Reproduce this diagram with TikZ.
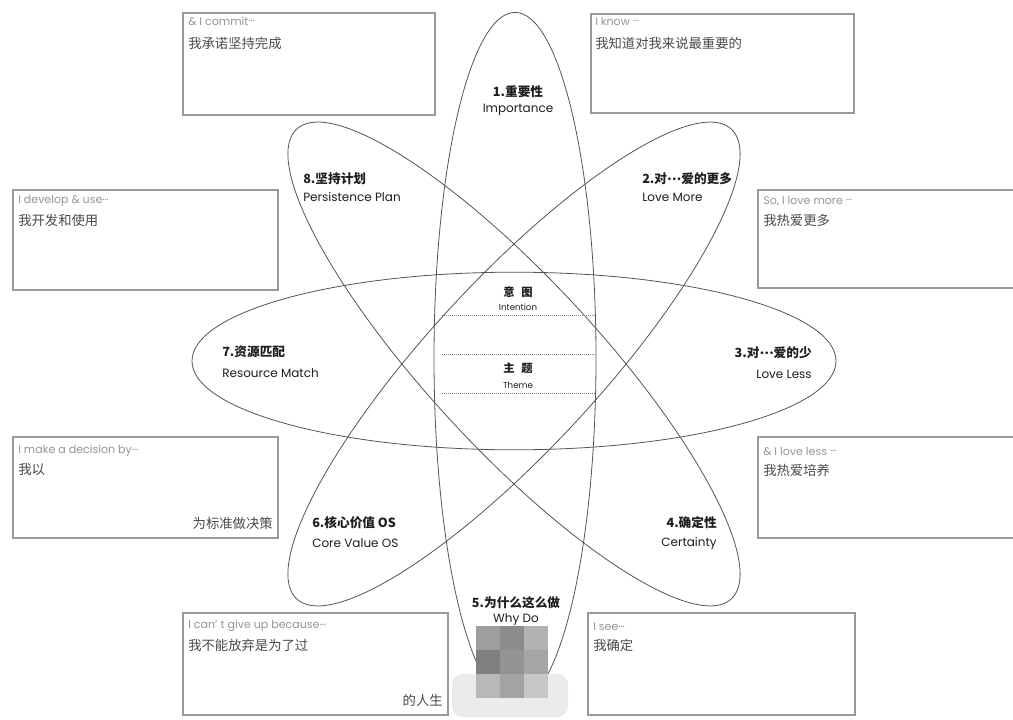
\documentclass[tikz,border=0pt]{standalone}
\usepackage{fontspec}
\setmainfont{Poppins}
\newfontfamily\cjk{Noto Sans CJK SC}
\definecolor{orbit}{HTML}{555555}
\definecolor{boxline}{HTML}{9A9A9A}
\definecolor{entext}{HTML}{959595}
\definecolor{zhtext}{HTML}{4A4A4A}
\definecolor{lbl}{HTML}{1E1E1E}
\newcommand{\mdots}{\raisebox{0.3em}{…}}
\tikzset{
  orbitline/.style={draw=orbit, line width=0.6pt},
  answerbox/.style={draw=boxline, line width=0.9pt},
  boxen/.style={inner sep=0pt, anchor=west, text=entext, font=\fontsize{8.3}{10}\selectfont},
  boxzh/.style={inner sep=0pt, anchor=west, text=zhtext, font=\cjk\fontsize{10}{12}\selectfont},
  boxzhr/.style={boxzh, anchor=east},
  lblzh/.style={inner sep=0pt, text=lbl, font=\cjk\bfseries\fontsize{9.5}{11}\selectfont},
  lblen/.style={inner sep=0pt, text=lbl, font=\fontsize{9}{11}\selectfont},
  midzh/.style={inner sep=0pt, text=lbl, font=\cjk\bfseries\fontsize{8.5}{10}\selectfont},
  miden/.style={inner sep=0pt, text=lbl, font=\fontsize{6.5}{8}\selectfont},
  dotline/.style={draw=gray, line width=0.5pt, dash pattern=on 0.5pt off 1pt}
}
\begin{document}
\begin{tikzpicture}[x=0.75pt,y=-0.75pt]
\useasboundingbox (0,0) rectangle (1013,720);
\fill[white] (0,0) rectangle (1013,720);
\begin{scope}
\clip (0,0) rectangle (1013,720);
% answer boxes
\draw[answerbox] (183,13) rectangle (435,115);
\draw[answerbox] (591,14) rectangle (854,113);
\draw[answerbox] (13,190) rectangle (278,290);
\draw[answerbox] (758,190) rectangle (1030,288);
\draw[answerbox] (13,437) rectangle (278,538);
\draw[answerbox] (758,437) rectangle (1030,538);
\draw[answerbox] (183,613) rectangle (448,715);
\draw[answerbox] (588,613) rectangle (855,715);
% orbits
\begin{scope}[shift={(514,361)}, yscale=1.07]
\draw[orbitline] (0,0) ellipse [x radius=322, y radius=83];
\end{scope}
\begin{scope}[shift={(515,358)}, yscale=1.07]
\draw[orbitline, rotate=90] (0,0) ellipse [x radius=323, y radius=81];
\end{scope}
\begin{scope}[shift={(514,364)}, yscale=1.07]
\draw[orbitline, rotate=45] (0,0) ellipse [x radius=309, y radius=82];
\draw[orbitline, rotate=-45] (0,0) ellipse [x radius=309, y radius=82];
\end{scope}
\end{scope}
% box texts
\node[boxen] (tlen) at (188,21) {\& I commit\mdots};
\node[boxzh] (tlzh) at (188,43) {我承诺坚持完成};
\node[boxen] (tren) at (595,21) {I know \mdots};
\node[boxzh] (trzh) at (595,43) {我知道对我来说最重要的};
\node[boxen] (mlen) at (18,201) {I develop \& use\mdots};
\node[boxzh] (mlzh) at (18,220) {我开发和使用};
\node[boxen] (mren) at (763,201) {So, I love more \mdots};
\node[boxzh] (mrzh) at (763,220) {我热爱更多};
\node[boxen] (llen) at (18,451) {I make a decision by\mdots};
\node[boxzh] (llzh) at (18,470) {我以};
\node[boxzhr] (llzh2) at (273,523) {为标准做决策};
\node[boxen] (lren) at (763,451) {\& I love less \mdots};
\node[boxzh] (lrzh) at (763,470) {我热爱培养};
\node[boxen] (blen) at (188,626) {I can’ t give up because\mdots};
\node[boxzh] (blzh) at (188,645) {我不能放弃是为了过};
\node[boxzhr] (blzh2) at (443,700) {的人生};
\node[boxen] (bren) at (593,627) {I see\mdots};
\node[boxzh] (brzh) at (593,645) {我确定};
% orbit labels
\node[lblzh] (l1zh) at (518,92) {1.重要性};
\node[lblen] (l1en) at (518,110) {Importance};
\node[lblzh, anchor=west] (l2zh) at (642,179) {2.对\mdots 爱的更多};
\node[lblen, anchor=west] (l2en) at (642,197) {Love More};
\node[lblzh, anchor=east] (l3zh) at (812,353) {3.对\mdots 爱的少};
\node[lblen, anchor=east] (l3en) at (812,374) {Love Less};
\node[lblzh, anchor=east] (l4zh) at (717,523) {4.确定性};
\node[lblen, anchor=east] (l4en) at (717,543) {Certainty};
\node[lblzh] (l5zh) at (516,603) {5.为什么这么做};
\node[lblen] (l5en) at (516,620) {Why Do};
\node[lblzh, anchor=west] (l6zh) at (312,523) {6.核心价值 OS};
\node[lblen, anchor=west] (l6en) at (312,543) {Core Value OS};
\node[lblzh, anchor=west] (l7zh) at (222,352) {7.资源匹配};
\node[lblen, anchor=west] (l7en) at (222,373) {Resource Match};
\node[lblzh, anchor=west] (l8zh) at (303,179) {8.坚持计划};
\node[lblen, anchor=west] (l8en) at (303,197) {Persistence Plan};
% center
\node[midzh] (intzh) at (518,292) {意\hspace{0.6em}图};
\node[miden] (inten) at (518,307) {Intention};
\coordinate (d1a) at (442,315); \coordinate (d1b) at (595,315);
\coordinate (d2a) at (442,354); \coordinate (d2b) at (595,354);
\coordinate (d3a) at (442,393); \coordinate (d3b) at (595,393);
\draw[dotline] (d1a) -- (d1b);
\draw[dotline] (d2a) -- (d2b);
\draw[dotline] (d3a) -- (d3b);
\node[midzh] (themezh) at (518,368) {主\hspace{0.6em}题};
\node[miden] (themeen) at (518,385) {Theme};
% mosaic
\fill[black!8, rounded corners=8pt] (452,674) rectangle (568,717);
\fill[black!38] (476,626) rectangle (500,650);
\fill[black!45] (500,626) rectangle (524,650);
\fill[black!30] (524,626) rectangle (548,650);
\fill[black!50] (476,650) rectangle (500,674);
\fill[black!42] (500,650) rectangle (524,674);
\fill[black!35] (524,650) rectangle (548,674);
\fill[black!28] (476,674) rectangle (500,698);
\fill[black!36] (500,674) rectangle (524,698);
\fill[black!22] (524,674) rectangle (548,698);
\end{tikzpicture}
\end{document}
